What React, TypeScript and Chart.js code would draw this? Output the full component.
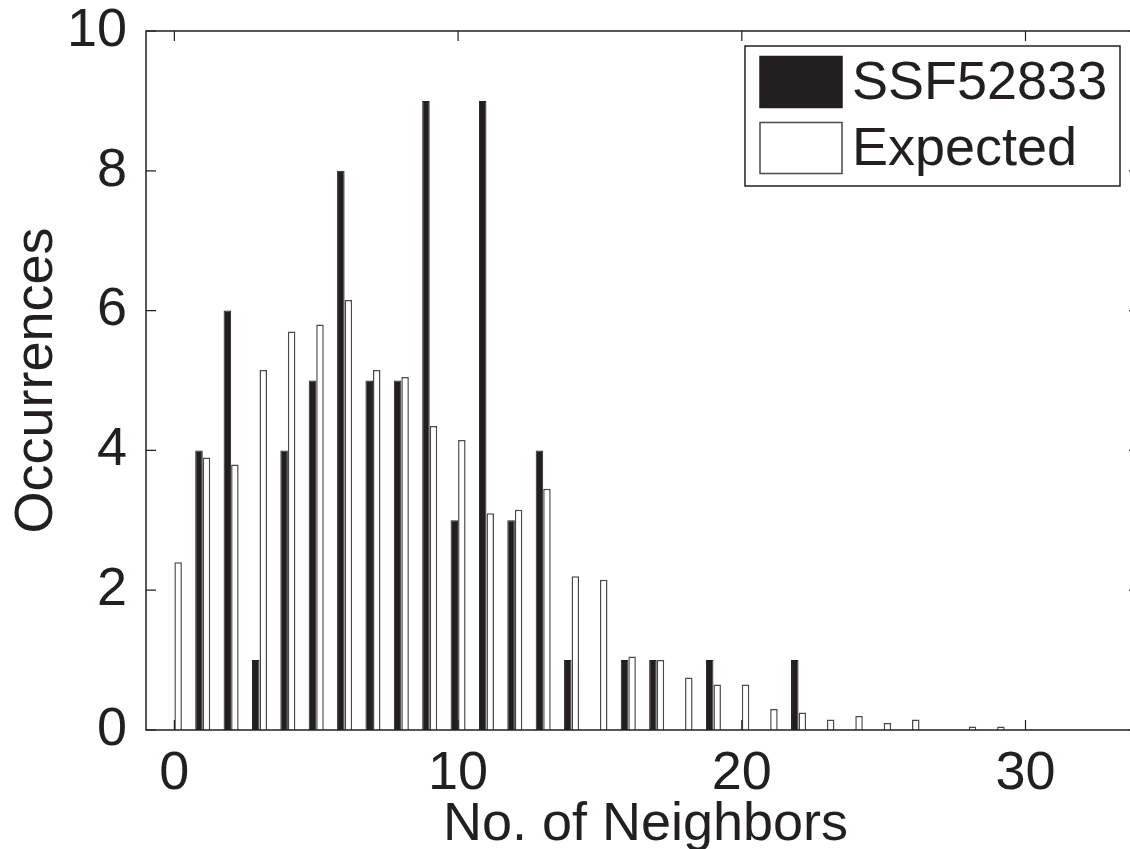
import React, { useEffect, useRef } from "react";
import { Chart, registerables } from "chart.js";

Chart.register(...registerables);

const neighbors = [0, 1, 2, 3, 4, 5, 6, 7, 8, 9, 10, 11, 12, 13, 14, 15, 16, 17, 18, 19, 20, 21, 22, 23, 24, 25, 26, 27, 28, 29, 30];
const ssf52833 = [0, 4, 6, 1, 4, 5, 8, 5, 5, 9, 3, 9, 3, 4, 1, 0, 1, 1, 0, 1, 0, 0, 1, 0, 0, 0, 0, 0, 0, 0, 0];
const expected = [2.4, 3.9, 3.8, 5.15, 5.7, 5.8, 6.15, 5.15, 5.05, 4.35, 4.15, 3.1, 3.15, 3.45, 2.2, 2.15, 1.05, 1.0, 0.75, 0.65, 0.65, 0.3, 0.25, 0.15, 0.2, 0.1, 0.15, 0, 0.05, 0.05, 0];
const xTicks = [0, 10, 20, 30];
const yTicks = [0, 2, 4, 6, 8, 10];
const seriesLabels = ["SSF52833", "Expected"];
const xTitle = "No. of Neighbors";
const yTitle = "Occurrences";

const INK = "#231f20";
const FONT_FAMILY = '"Liberation Sans", Arial, Helvetica, sans-serif';

const framePlugin = {
  id: "matlabFrame",
  afterDatasetsDraw(chart: any) {
    const { ctx, chartArea, scales } = chart;
    const { left, right, top, bottom } = chartArea;
    const xs = scales.x;
    const ys = scales.y;
    ctx.save();
    ctx.strokeStyle = INK;
    ctx.lineWidth = 1.5;
    ctx.beginPath();
    ctx.moveTo(left, top);
    ctx.lineTo(right, top);
    ctx.lineTo(right, bottom);
    ctx.lineTo(left, bottom);
    ctx.closePath();
    ctx.stroke();
    const tl = 10;
    ctx.lineWidth = 1.2;
    ctx.beginPath();
    for (const v of xTicks) {
      const px = xs.getPixelForValue(v);
      ctx.moveTo(px, bottom);
      ctx.lineTo(px, bottom - tl);
      ctx.moveTo(px, top);
      ctx.lineTo(px, top + tl);
    }
    for (const v of yTicks) {
      const py = ys.getPixelForValue(v);
      ctx.moveTo(left, py);
      ctx.lineTo(left + tl, py);
      ctx.moveTo(right, py);
      ctx.lineTo(right - tl, py);
    }
    ctx.stroke();
    ctx.restore();
  },
  afterDraw(chart: any) {
    const { ctx, chartArea } = chart;
    const { left, right, top, bottom } = chartArea;
    ctx.save();
    ctx.fillStyle = INK;
    ctx.font = `54px ${FONT_FAMILY}`;
    ctx.textAlign = "center";
    ctx.textBaseline = "alphabetic";
    ctx.fillText(xTitle, (left + right) / 2 + 3, 840);
    ctx.save();
    ctx.translate(52, (top + bottom) / 2);
    ctx.rotate(-Math.PI / 2);
    ctx.fillText(yTitle, 0, 0);
    ctx.restore();

    const lx = 745, ly = 46, lw = 375, lh = 140;
    ctx.fillStyle = "#ffffff";
    ctx.fillRect(lx, ly, lw, lh);
    ctx.strokeStyle = INK;
    ctx.lineWidth = 1.5;
    ctx.strokeRect(lx, ly, lw, lh);
    const ds = chart.data.datasets;
    const rows = [82, 148];
    ctx.font = `54px ${FONT_FAMILY}`;
    ctx.textAlign = "left";
    ctx.textBaseline = "middle";
    rows.forEach((cy, i) => {
      const d = ds[i];
      ctx.fillStyle = d.backgroundColor;
      ctx.fillRect(760, cy - 25.5, 82, 51);
      ctx.strokeStyle = d.borderColor;
      ctx.lineWidth = 1.5;
      ctx.strokeRect(760, cy - 25.5, 82, 51);
      ctx.fillStyle = INK;
      ctx.fillText(d.label, 852, cy + 2);
    });
    ctx.restore();
  },
};

export default function App() {
  const canvasRef = useRef<HTMLCanvasElement | null>(null);

  useEffect(() => {
    const canvas = canvasRef.current;
    if (!canvas) return;
    const toPoints = (vals: number[]) =>
      neighbors.map((x, i) => ({ x, y: vals[i] === 0 ? null : vals[i] }));

    const chart = new Chart(canvas, {
      type: "bar",
      data: {
        datasets: [
          {
            label: seriesLabels[0],
            data: toPoints(ssf52833) as any,
            backgroundColor: INK,
            borderColor: INK,
            borderWidth: 1,
            categoryPercentage: 0.53,
            barPercentage: 1,
          },
          {
            label: seriesLabels[1],
            data: toPoints(expected) as any,
            backgroundColor: "#ffffff",
            borderColor: "#4a4a4a",
            borderWidth: 1.5,
            categoryPercentage: 0.53,
            barPercentage: 1,
          },
        ],
      },
      options: {
        animation: false,
        responsive: false,
        devicePixelRatio: 1,
        layout: { padding: { top: 31, right: 11, left: 0, bottom: 0 } },
        plugins: {
          legend: { display: false },
          tooltip: { enabled: false },
        },
        scales: {
          x: {
            type: "linear",
            min: -1,
            max: 34,
            offset: false,
            grid: { display: false },
            border: { display: false },
            ticks: {
              color: INK,
              font: { size: 54, family: FONT_FAMILY },
              padding: 4,
              maxRotation: 0,
              autoSkip: false,
            },
            afterBuildTicks: (s: any) => {
              s.ticks = xTicks.map((v) => ({ value: v }));
            },
            afterFit: (s: any) => {
              s.height = 119;
              s.paddingLeft = 0;
              s.paddingRight = 0;
              s.paddingTop = 0;
              s.paddingBottom = 0;
            },
          },
          y: {
            type: "linear",
            min: 0,
            max: 10,
            grid: { display: false },
            border: { display: false },
            ticks: {
              color: INK,
              font: { size: 54, family: FONT_FAMILY },
              padding: 11,
              autoSkip: false,
            },
            afterBuildTicks: (s: any) => {
              s.ticks = yTicks.map((v) => ({ value: v }));
            },
            afterFit: (s: any) => {
              s.width = 146;
              s.paddingTop = 0;
              s.paddingBottom = 0;
              s.paddingLeft = 0;
              s.paddingRight = 0;
            },
          },
        },
      } as any,
      plugins: [framePlugin],
    });
    return () => chart.destroy();
  }, []);

  return (
    <div
      style={{
        position: "absolute",
        left: 0,
        top: 0,
        width: 1130,
        height: 849,
        overflow: "hidden",
        background: "#ffffff",
      }}
    >
      <canvas ref={canvasRef} width={1150} height={849} style={{ display: "block" }} />
    </div>
  );
}
